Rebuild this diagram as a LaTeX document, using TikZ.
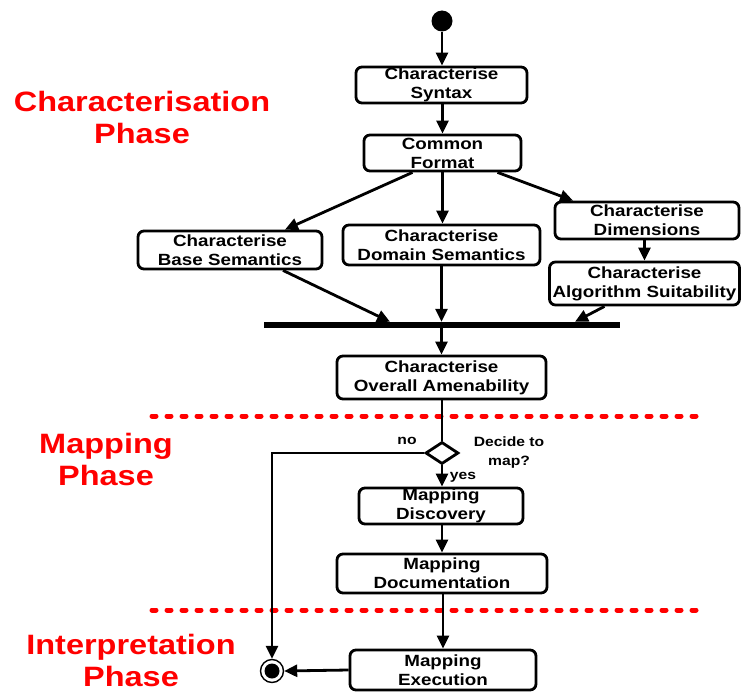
\documentclass[tikz,border=0pt]{standalone}
\usepackage{fontspec}
\setmainfont{Liberation Sans}[FakeStretch=1.16]
\usetikzlibrary{arrows.meta,shapes.geometric}
\begin{document}
\begin{tikzpicture}[x=1pt,y=-1pt,
  box/.style={draw, line width=2.8pt, rounded corners=6pt, inner sep=0pt, align=center,
    font=\bfseries\fontsize{16.2}{19}\selectfont},
  arr/.style={line width=2.8pt, -{Triangle[length=13pt,width=12pt]}},
  plain/.style={line width=2.8pt},
  phase/.style={text=red, align=center, font=\bfseries\fontsize{28}{32}\selectfont},
  lbl/.style={align=center, font=\bfseries\fontsize{13.5}{19}\selectfont, inner sep=0pt},
  reddash/.style={draw=red, line width=5pt, line cap=round, dash pattern=on 4pt off 11pt}]
\useasboundingbox (0,0) rectangle (742,693);
% start
\node (start) [circle, fill=black, minimum size=21pt, inner sep=0pt] at (442,21) {};
% boxes
\node (syn) [box, minimum width=171pt, minimum height=36pt] at (441.5,85) {Characterise\\Syntax};
\node (cf) [box, minimum width=157pt, minimum height=36pt] at (442.5,153) {Common\\Format};
\node (bs) [box, minimum width=184pt, minimum height=38pt] at (230,250) {Characterise\\Base Semantics};
\node (ds) [box, minimum width=197pt, minimum height=40pt] at (441.5,245) {Characterise\\Domain Semantics};
\node (dim) [box, minimum width=184pt, minimum height=37pt] at (647,220.5) {Characterise\\Dimensions};
\node (alg) [box, minimum width=190pt, minimum height=43pt] at (644.5,283.5) {Characterise\\Algorithm Suitability};
\node (bar) [fill=black, minimum width=356pt, minimum height=6pt, inner sep=0pt] at (442,325) {};
\node (ova) [box, minimum width=209pt, minimum height=43pt] at (441.5,377.5) {Characterise\\Overall Amenability};
\node (dia) [diamond, draw, line width=2.8pt, minimum width=33pt, minimum height=22pt, inner sep=0pt, aspect=1.5] at (442,453) {};
\node (md) [box, minimum width=164pt, minimum height=36pt] at (441,506) {Mapping\\Discovery};
\node (mdoc) [box, minimum width=210pt, minimum height=39pt] at (442,573.5) {Mapping\\Documentation};
\node (mex) [box, minimum width=186pt, minimum height=40pt] at (443,670) {Mapping\\Execution};
% end node
\node (endc) [circle, draw, line width=1.4pt, minimum size=23pt, inner sep=0pt] at (272,671) {};
\node (endd) [circle, fill=black, minimum size=15pt, inner sep=0pt] at (272,671) {};
% labels
\node (no) [lbl] at (407,441) {no};
\node (yes) [lbl] at (463,477) {yes};
\node (dec) [lbl] at (509,453) {Decide to\\map?};
\node (p1) [phase] at (142,117) {Characterisation\\Phase};
\node (p2) [phase] at (106,459) {Mapping\\Phase};
\node (p3) [phase] at (131,660) {Interpretation\\Phase};
% dashed separators
\coordinate (d1a) at (152,416); \coordinate (d1b) at (700,416);
\coordinate (d2a) at (152,610); \coordinate (d2b) at (700,610);
\draw[reddash] (d1a) -- (d1b);
\draw[reddash] (d2a) -- (d2b);
% connectors
\draw[arr] (start) -- (start |- syn.north);
\draw[arr] (syn.south -| cf.north) -- (cf.north);
\draw[arr] ([xshift=-30pt]cf.south) -- ([xshift=55pt]bs.north);
\draw[arr] (cf.south) -- (cf.south |- ds.north);
\draw[arr] ([xshift=55pt]cf.south) -- ([xshift=-74pt]dim.north);
\draw[arr] (alg.north |- dim.south) -- (alg.north);
\draw[arr] ([xshift=53pt]bs.south) -- ([xshift=-52pt]bar.north);
\draw[arr] (ds.south) -- (ds.south |- bar.north);
\draw[arr] ([xshift=-40pt]alg.south) -- ([xshift=133pt]bar.north);
\draw[arr] (bar.south -| ova.north) -- (ova.north);
\draw[plain] (ova.south -| dia.north) -- (dia.north);
\draw[arr] (dia.south) -- (dia.south |- md.north);
\draw[arr] (md.south -| mdoc.north) -- (mdoc.north);
\draw[arr] (mdoc.south -| mex.north) -- (mex.north);
\draw[arr] (dia.west) -| (endc.north);
\draw[arr] (mex.west) -- (endc.east);
\end{tikzpicture}
\end{document}
